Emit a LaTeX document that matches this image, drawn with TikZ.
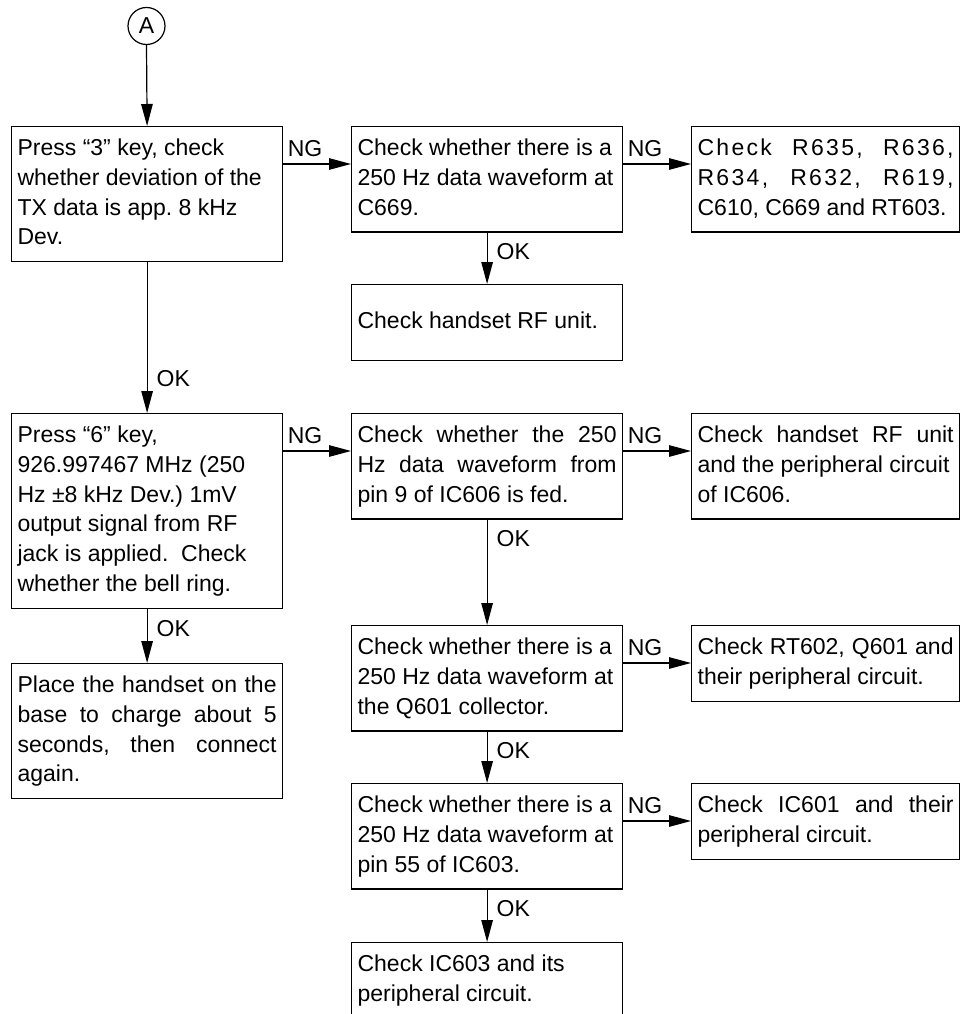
\documentclass[tikz,border=0pt]{standalone}
\usepackage{fontspec}
\setmainfont{Liberation Sans}
\usetikzlibrary{arrows.meta,calc}
\newcommand{\chartfont}{\fontsize{23}{29.8}\selectfont\frenchspacing}
\tikzset{
  box/.style={draw, line width=1.2pt, anchor=north west, inner xsep=6pt, inner ysep=8pt,
    text width=259pt, align=justify, font=\chartfont,
    execute at begin node=\noindent\strut, execute at end node=\strut},
  narrow/.style={text width=256pt},
  arr/.style={-{Triangle[length=22pt,width=11.5pt]}, line width=1.2pt},
  lbl/.style={inner sep=0pt, font=\chartfont, anchor=base west},
  ng/.style={lbl, pos=0, xshift=4pt, yshift=8pt},
  ok/.style={lbl, pos=0, xshift=9pt, yshift=-27pt},
  okend/.style={lbl, pos=1, xshift=9pt, yshift=27pt},
}
\begin{document}
\begin{tikzpicture}[x=1pt, y=-1pt]
  \useasboundingbox (0,0) rectangle (961,1014);
  \node[circle, draw, line width=1.2pt, minimum size=37pt, inner sep=0pt, font=\chartfont] (A) at (146.5,26) {A};
  % first column
  \node[box] (b1) at (11,126) {Press “3” key, check\newline whether deviation of the\newline TX data is app. 8 kHz\newline Dev.};
  \node[box] (b4) at (11,413) {Press “6” key,\newline 926.997467 MHz (250\newline Hz ±8 kHz Dev.) 1mV\newline output signal from RF\newline jack is applied.\ \ Check\newline whether the bell ring.};
  \node[box] (b7) at (11,663) {Place the handset on the\linebreak base to charge about 5\linebreak seconds, then connect\linebreak again.};
  % second column
  \node[box] (b2) at (351,126) {Check whether there is a\newline 250 Hz data waveform at\newline C669.};
  \node[box, minimum height=75.6pt] (rf) at (351,284) {Check handset RF unit.};
  \node[box] (b5) at (351,413) {Check whether the 250\linebreak Hz data waveform from\linebreak pin 9 of IC606 is fed.};
  \node[box] (b8) at (351,625) {Check whether there is a\newline 250 Hz data waveform at\newline the Q601 collector.};
  \node[box] (b10) at (351,783) {Check whether there is a\newline 250 Hz data waveform at\newline pin 55 of IC603.};
  \node[box] (b12) at (351,942) {Check IC603 and its\newline peripheral circuit.};
  % third column
  \node[box, narrow] (b3) at (691,126) {{\addfontfeatures{LetterSpace=10}Check R635, R636,\linebreak R634, R632, R619,\linebreak}C610, C669 and RT603.};
  \node[box, narrow] (b6) at (691,413) {Check handset RF unit\linebreak and the peripheral circuit\newline of IC606.};
  \node[box, narrow] (b9) at (691,625) {Check RT602, Q601 and\linebreak their peripheral circuit.};
  \node[box, narrow] (b11) at (691,783) {Check IC601 and their\linebreak peripheral circuit.};
  % OK branches
  \draw[arr] (A.south) -- (b1.north);
  \draw[arr] (b1.south) -- node[okend]{OK} (b4.north);
  \draw[arr] (b4.south) -- node[ok]{OK} (b7.north);
  \draw[arr] (b2.south) -- node[ok]{OK} (rf.north);
  \draw[arr] (b5.south) -- node[ok]{OK} (b8.north);
  \draw[arr] (b8.south) -- node[ok]{OK} (b10.north);
  \draw[arr] (b10.south) -- node[ok]{OK} (b12.north);
  % NG branches
  \draw[arr] ($(b1.north east)+(0,38)$) -- node[ng]{NG} ($(b2.north west)+(0,38)$);
  \draw[arr] ($(b2.north east)+(0,38)$) -- node[ng]{NG} ($(b3.north west)+(0,38)$);
  \draw[arr] ($(b4.north east)+(0,38)$) -- node[ng]{NG} ($(b5.north west)+(0,38)$);
  \draw[arr] ($(b5.north east)+(0,38)$) -- node[ng]{NG} ($(b6.north west)+(0,38)$);
  \draw[arr] ($(b8.north east)+(0,38)$) -- node[ng]{NG} ($(b9.north west)+(0,38)$);
  \draw[arr] ($(b10.north east)+(0,38)$) -- node[ng]{NG} ($(b11.north west)+(0,38)$);
\end{tikzpicture}
\end{document}
